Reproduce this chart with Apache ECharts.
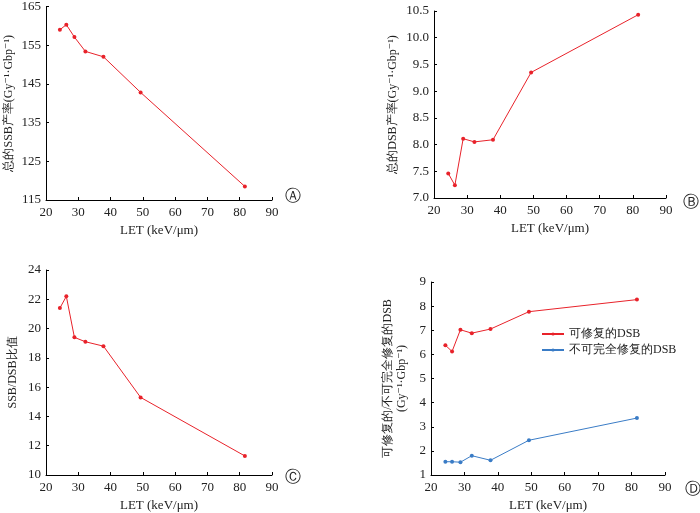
<!DOCTYPE html>
<html><head><meta charset="utf-8">
<script src="https://cdn.jsdelivr.net/npm/echarts@6/dist/echarts.min.js"></script>
<style>html,body{margin:0;background:#fff}#c{width:700px;height:513px}</style>
</head><body><div id="c"></div>
<script>
const letValues = [24.3, 26.3, 28.8, 32.2, 37.8, 49.3, 81.6];
const ssbYield = [159.0, 160.3, 157.1, 153.4, 152.0, 142.8, 118.5];
const dsbYield = [7.46, 7.24, 8.11, 8.05, 8.09, 9.35, 10.43];
const ssbDsbRatio = [21.4, 22.2, 19.4, 19.1, 18.8, 15.3, 11.3];
const repairableDsb = [6.38, 6.12, 7.02, 6.88, 7.05, 7.77, 8.27];
const unrepairableDsb = [1.55, 1.55, 1.53, 1.80, 1.61, 2.44, 3.36];
const panelLabels = ['Ⓐ', 'Ⓑ', 'Ⓒ', 'Ⓓ'];

const F = '"Liberation Serif","DejaVu Serif",serif';
const zip = a => letValues.map((x, i) => [x, a[i]]);
const grids = [
  {left: 46, top: 5, width: 226, height: 195},
  {left: 434, top: 11, width: 232, height: 187},
  {left: 46, top: 270, width: 226, height: 208},
  {left: 431, top: 282, width: 234, height: 197}
];
const yCfg = [
  {min: 115, max: 165, interval: 10, name: '总的SSB产率(Gy⁻¹·Gbp⁻¹)', fmt: v => v, gap: 30},
  {min: 7, max: 10.5, interval: 0.5, name: '总的DSB产率(Gy⁻¹·Gbp⁻¹)', fmt: v => v.toFixed(1), gap: 34},
  {min: 10, max: 24, interval: 2, name: 'SSB/DSB比值', fmt: v => v, gap: 26},
  {min: 1, max: 9, interval: 1, name: '可修复的/不可完全修复的DSB\n(Gy⁻¹·Gbp⁻¹)', fmt: v => v, gap: 22}
];
const axisLine = {lineStyle: {color: '#000', width: 1}};
const xAxis = grids.map((g, i) => ({
  type: 'value', gridIndex: i, min: 20, max: 90, interval: 10,
  name: 'LET (keV/μm)', nameLocation: 'middle', nameGap: 24,
  nameTextStyle: {fontFamily: F, fontSize: 13, color: '#222'},
  axisLine, axisTick: {inside: true, length: 3, lineStyle: {color: '#000'}},
  axisLabel: {fontFamily: F, fontSize: 13, color: '#222', margin: 6},
  splitLine: {show: false}
}));
const yAxis = yCfg.map((c, i) => ({
  type: 'value', gridIndex: i, min: c.min, max: c.max, interval: c.interval,
  name: c.name, nameLocation: 'middle', nameGap: c.gap, nameRotate: 90,
  nameTextStyle: {fontFamily: F, fontSize: 12, color: '#222', lineHeight: 14},
  axisLine: {show: true, lineStyle: {color: '#000'}},
  axisTick: {inside: true, length: 3, lineStyle: {color: '#000'}},
  axisLabel: {fontFamily: F, fontSize: 13, color: '#222', margin: 5, formatter: c.fmt},
  splitLine: {show: false}
}));
const red = '#e8222a', blue = '#3a7cc6';
const line = (i, data, color, name) => ({
  type: 'line', name, xAxisIndex: i, yAxisIndex: i, data: zip(data),
  symbol: 'circle', symbolSize: 4, lineStyle: {color, width: 1}, itemStyle: {color}
});
const chart = echarts.init(document.getElementById('c'));
chart.setOption({
  animation: false,
  grid: grids,
  xAxis, yAxis,
  legend: {
    data: ['可修复的DSB', '不可完全修复的DSB'], orient: 'vertical',
    left: 536, top: 323, itemWidth: 22, itemHeight: 4, itemGap: 4,
    textStyle: {fontFamily: F, fontSize: 12, color: '#222'}
  },
  graphic: [
    {type: 'text', left: 285, top: 189, style: {text: panelLabels[0], font: '16px ' + F, fill: '#222'}},
    {type: 'text', left: 683, top: 195, style: {text: panelLabels[1], font: '16px ' + F, fill: '#222'}},
    {type: 'text', left: 285, top: 470, style: {text: panelLabels[2], font: '16px ' + F, fill: '#222'}},
    {type: 'text', left: 685, top: 482, style: {text: panelLabels[3], font: '16px ' + F, fill: '#222'}}
  ],
  series: [
    line(0, ssbYield, red),
    line(1, dsbYield, red),
    line(2, ssbDsbRatio, red),
    line(3, repairableDsb, red, '可修复的DSB'),
    line(3, unrepairableDsb, blue, '不可完全修复的DSB')
  ]
});
</script></body></html>
